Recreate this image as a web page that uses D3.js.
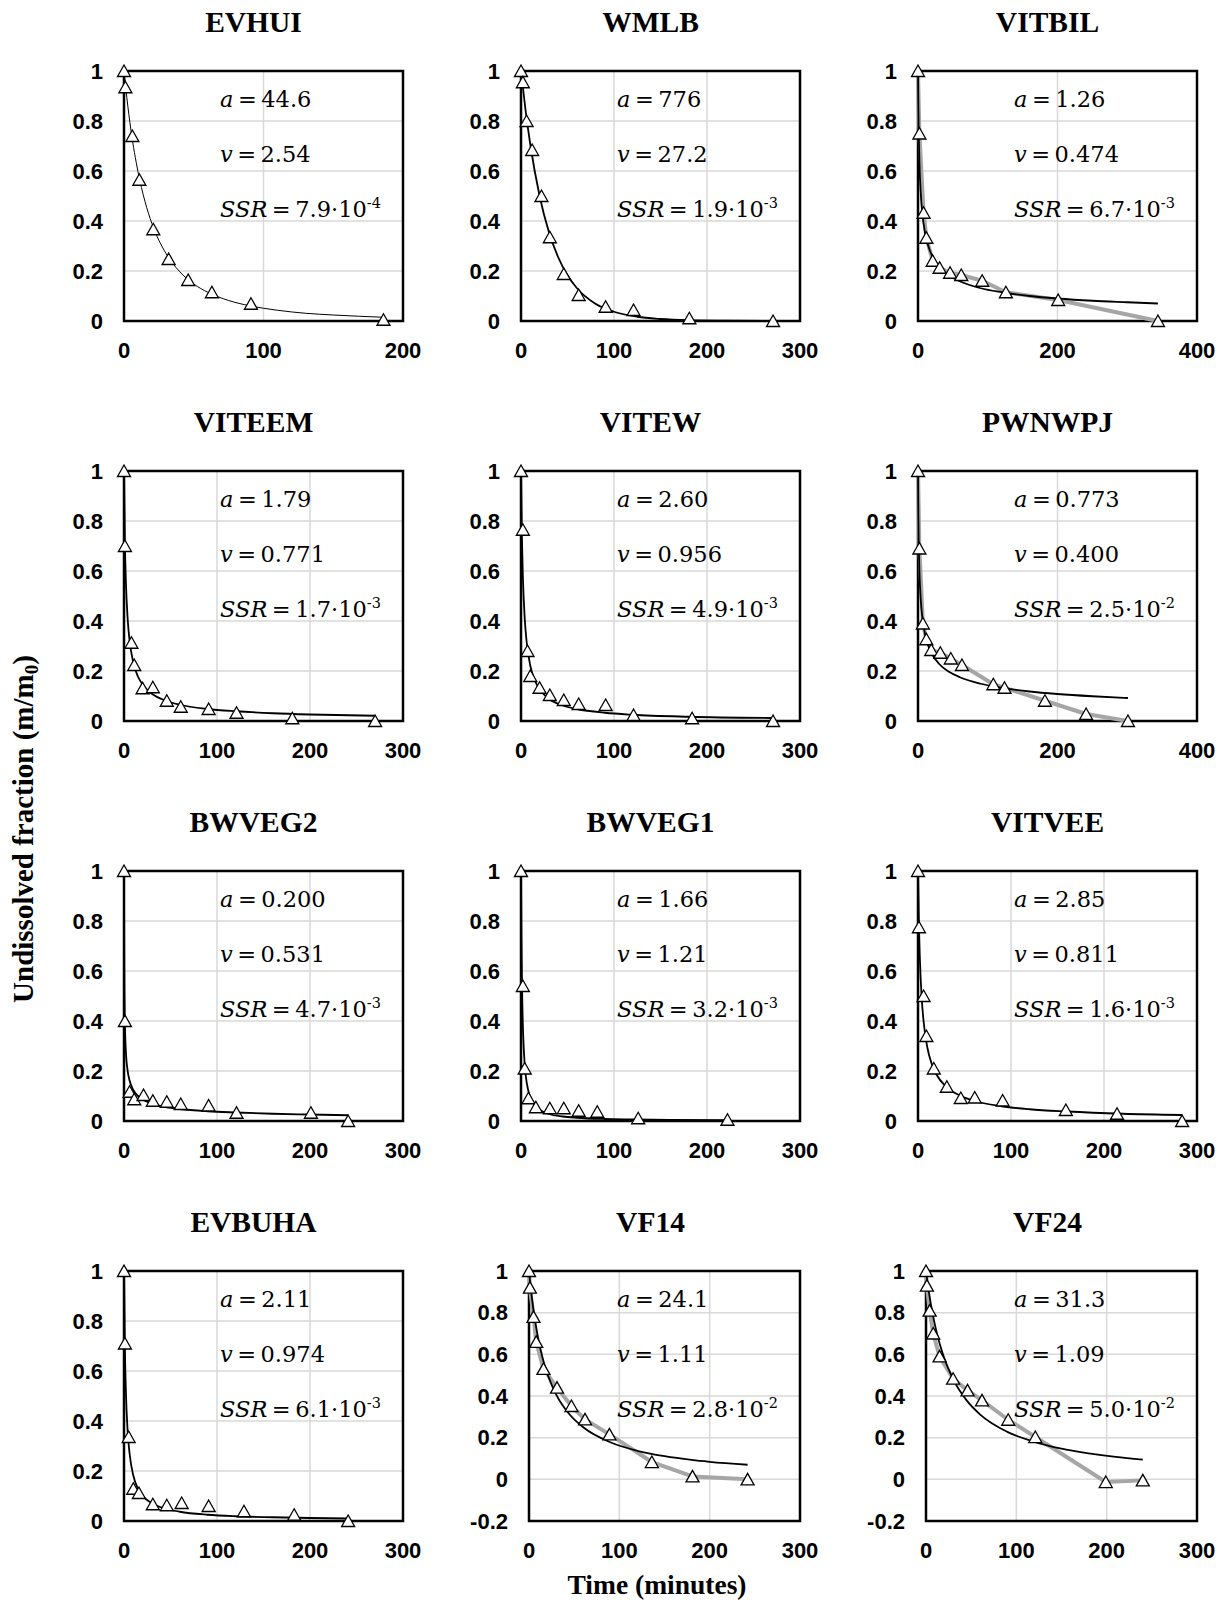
<!DOCTYPE html>
<html>
<head>
<meta charset="utf-8">
<script src="https://cdn.jsdelivr.net/npm/d3@7"></script>
<style>
  body { margin: 0; background: #fff; }
  svg { display: block; }
</style>
</head>
<body>
<script>
const panelNames = ["EVHUI", "WMLB", "VITBIL", "VITEEM", "VITEW", "PWNWPJ",
                    "BWVEG2", "BWVEG1", "VITVEE", "EVBUHA", "VF14", "VF24"];
const xMax  = [200, 300, 400, 300, 300, 400, 300, 300, 300, 300, 300, 300];
const xStep = [100, 100, 200, 100, 100, 200, 100, 100, 100, 100, 100, 100];
const yMin  = [0, 0, 0, 0, 0, 0, 0, 0, 0, 0, -0.2, -0.2];
const greyLine = [false, false, true, false, false, true, false, false, false, false, true, true];

const paramA = ["44.6", "776", "1.26", "1.79", "2.60", "0.773", "0.200", "1.66", "2.85", "2.11", "24.1", "31.3"];
const paramV = ["2.54", "27.2", "0.474", "0.771", "0.956", "0.400", "0.531", "1.21", "0.811", "0.974", "1.11", "1.09"];
const ssrMant = ["7.9", "1.9", "6.7", "1.7", "4.9", "2.5", "4.7", "3.2", "1.6", "6.1", "2.8", "5.0"];
const ssrExp  = ["-4", "-3", "-3", "-3", "-3", "-2", "-3", "-3", "-3", "-3", "-2", "-2"];

// measured points (time in minutes, undissolved fraction)
const obsTime = [
  [0, 1, 6, 11, 21, 32, 46, 63, 91, 186],
  [0, 2, 6, 12, 22, 31, 46, 62, 91, 121, 181, 271],
  [0, 2, 8, 12, 21, 31, 46, 62, 92, 126, 201, 344],
  [0, 1, 8, 11, 20, 31, 46, 61, 91, 121, 181, 270],
  [0, 2, 7, 10, 20, 31, 46, 62, 91, 121, 184, 271],
  [0, 2, 7, 12, 19, 32, 47, 63, 108, 124, 182, 241, 301],
  [0, 1, 6, 11, 21, 31, 46, 61, 91, 121, 201, 241],
  [0, 2, 4, 8, 16, 31, 46, 62, 82, 126, 222],
  [0, 1, 6, 9, 17, 31, 46, 61, 91, 159, 214, 284],
  [0, 1, 5, 10, 16, 31, 46, 62, 91, 129, 183, 241],
  [0, 1, 5, 8, 16, 31, 47, 62, 89, 136, 181, 242],
  [0, 1, 4, 8, 15, 30, 46, 62, 91, 121, 199, 240]
];
const obsFrac = [
  [1, 0.935, 0.74, 0.565, 0.367, 0.248, 0.164, 0.115, 0.069, 0.005],
  [1, 0.955, 0.8, 0.684, 0.5, 0.335, 0.188, 0.104, 0.057, 0.044, 0.011, 0],
  [1, 0.75, 0.433, 0.333, 0.241, 0.213, 0.193, 0.184, 0.161, 0.115, 0.084, 0],
  [1, 0.70, 0.313, 0.224, 0.131, 0.135, 0.081, 0.057, 0.048, 0.033, 0.011, 0],
  [1, 0.765, 0.28, 0.18, 0.133, 0.104, 0.084, 0.068, 0.064, 0.024, 0.011, 0],
  [1, 0.69, 0.39, 0.327, 0.284, 0.273, 0.25, 0.224, 0.147, 0.133, 0.081, 0.028, 0],
  [1, 0.40, 0.117, 0.087, 0.104, 0.081, 0.077, 0.068, 0.062, 0.033, 0.033, 0],
  [1, 0.54, 0.21, 0.091, 0.055, 0.051, 0.051, 0.041, 0.037, 0.011, 0.005],
  [1, 0.775, 0.50, 0.34, 0.21, 0.137, 0.092, 0.094, 0.082, 0.044, 0.029, 0],
  [1, 0.71, 0.336, 0.129, 0.112, 0.067, 0.063, 0.072, 0.06, 0.039, 0.025, 0],
  [1, 0.92, 0.78, 0.66, 0.53, 0.44, 0.352, 0.288, 0.216, 0.083, 0.014, 0],
  [1, 0.93, 0.81, 0.70, 0.59, 0.483, 0.427, 0.379, 0.286, 0.203, -0.013, -0.005]
];

// fitted curves
const fitTime = [
  [0, 2, 5, 10, 15, 20, 30, 40, 50, 60, 75, 90, 110, 130, 150, 186],
  [0, 5, 10, 20, 30, 40, 50, 60, 80, 100, 125, 150, 180, 220, 271],
  [0, 0.5, 1, 2, 4, 6, 10, 15, 20, 30, 45, 60, 90, 120, 160, 200, 250, 300, 344],
  [0, 1, 2, 4, 6, 10, 15, 20, 30, 45, 60, 90, 120, 160, 200, 270],
  [0, 1, 2, 4, 6, 10, 15, 20, 30, 45, 60, 90, 120, 180, 271],
  [0, 0.5, 1, 2, 4, 6, 10, 15, 20, 30, 45, 60, 90, 120, 160, 200, 250, 301],
  [0, 0.2, 0.5, 1, 2, 4, 6, 10, 15, 20, 30, 45, 60, 90, 120, 160, 200, 241],
  [0, 0.5, 1, 2, 3, 5, 8, 12, 20, 30, 45, 60, 90, 120, 160, 222],
  [0, 1, 2, 4, 6, 10, 15, 20, 30, 45, 60, 90, 120, 160, 220, 284],
  [0, 1, 2, 4, 6, 10, 15, 20, 30, 45, 60, 90, 120, 160, 200, 241],
  [0, 2, 5, 10, 15, 20, 30, 45, 60, 90, 120, 150, 180, 200, 242],
  [0, 2, 5, 10, 15, 20, 30, 45, 60, 90, 120, 150, 180, 210, 240]
];
const fitFrac = [
  [1, 0.895, 0.763, 0.598, 0.479, 0.390, 0.271, 0.197, 0.148, 0.115, 0.082, 0.061, 0.043, 0.031, 0.024, 0.015],
  [1, 0.840, 0.706, 0.500, 0.356, 0.255, 0.183, 0.132, 0.069, 0.037, 0.017, 0.008, 0.003, 0.001, 0],
  [1, 0.853, 0.758, 0.637, 0.508, 0.436, 0.354, 0.298, 0.262, 0.218, 0.181, 0.159, 0.131, 0.115, 0.100, 0.090, 0.081, 0.075, 0.070],
  [1, 0.710, 0.561, 0.405, 0.322, 0.234, 0.178, 0.146, 0.109, 0.081, 0.065, 0.048, 0.039, 0.031, 0.026, 0.021],
  [1, 0.733, 0.580, 0.410, 0.319, 0.221, 0.161, 0.127, 0.089, 0.062, 0.048, 0.033, 0.025, 0.017, 0.012],
  [1, 0.819, 0.717, 0.600, 0.483, 0.420, 0.349, 0.299, 0.268, 0.229, 0.196, 0.175, 0.149, 0.133, 0.118, 0.108, 0.099, 0.092],
  [1, 0.692, 0.514, 0.386, 0.280, 0.199, 0.162, 0.124, 0.100, 0.086, 0.070, 0.056, 0.048, 0.039, 0.034, 0.029, 0.026, 0.023],
  [1, 0.727, 0.565, 0.384, 0.287, 0.186, 0.119, 0.078, 0.045, 0.028, 0.018, 0.013, 0.008, 0.006, 0.004, 0.003],
  [1, 0.784, 0.650, 0.491, 0.399, 0.295, 0.226, 0.185, 0.138, 0.102, 0.081, 0.059, 0.047, 0.038, 0.029, 0.024],
  [1, 0.685, 0.522, 0.355, 0.270, 0.182, 0.130, 0.101, 0.071, 0.049, 0.037, 0.025, 0.019, 0.015, 0.012, 0.010],
  [1, 0.915, 0.811, 0.680, 0.584, 0.511, 0.408, 0.311, 0.250, 0.178, 0.137, 0.111, 0.093, 0.084, 0.070],
  [1, 0.935, 0.851, 0.739, 0.653, 0.584, 0.481, 0.379, 0.311, 0.228, 0.180, 0.147, 0.125, 0.108, 0.095]
];

const width = 1224, height = 1603;
const colLeft = [124, 521, 918];
const rowTop = [71, 471, 871, 1271];
const boxW = 279, boxH = 250;

const svg = d3.select("body").append("svg")
  .attr("width", width)
  .attr("height", height);
svg.append("rect").attr("width", width).attr("height", height).attr("fill", "#fff");

const triangle = "M0,-6L6.5,5.5L-6.5,5.5Z";
const tickFmt = d => String(+d.toFixed(1));   // plain hyphen for negatives

panelNames.forEach((name, i) => {
  const col = i % 3, row = Math.floor(i / 3);
  const shift = yMin[i] < 0 ? 8 : 0;
  const left = colLeft[col] + shift;
  const top = rowTop[row];
  const w = boxW - shift;

  const x = d3.scaleLinear().domain([0, xMax[i]]).range([0, w]);
  const y = d3.scaleLinear().domain([yMin[i], 1]).range([boxH, 0]);
  const xTicks = d3.range(0, xMax[i] + 1, xStep[i]);
  const yTicks = d3.range(Math.round(yMin[i] * 10), 11, 2).map(d => d / 10);

  // title, centred on the column
  svg.append("text")
    .attr("x", colLeft[col] + boxW / 2 - 10)
    .attr("y", top - 39)
    .attr("text-anchor", "middle")
    .style("font-family", "'Liberation Serif', 'Times New Roman', serif")
    .style("font-weight", "bold")
    .style("font-size", "29.5px")
    .text(name);

  const g = svg.append("g").attr("transform", `translate(${left},${top})`);

  // grid
  g.selectAll(".hgrid").data(yTicks).join("line")
    .attr("x1", 0).attr("x2", w)
    .attr("y1", d => y(d)).attr("y2", d => y(d))
    .attr("stroke", "#d9d9d9").attr("stroke-width", 1.5);
  g.selectAll(".vgrid").data(xTicks).join("line")
    .attr("x1", d => x(d)).attr("x2", d => x(d))
    .attr("y1", 0).attr("y2", boxH)
    .attr("stroke", "#d9d9d9").attr("stroke-width", 1.5);

  // tick labels
  g.selectAll(".ylab").data(yTicks).join("text")
    .attr("x", -21).attr("y", d => y(d))
    .attr("text-anchor", "end")
    .attr("dominant-baseline", "central")
    .style("font-family", "'Liberation Sans', Arial, sans-serif")
    .style("font-weight", "bold")
    .style("font-size", "22px")
    .text(tickFmt);
  g.selectAll(".xlab").data(xTicks).join("text")
    .attr("x", d => x(d)).attr("y", boxH + 29)
    .attr("text-anchor", "middle")
    .attr("dominant-baseline", "central")
    .style("font-family", "'Liberation Sans', Arial, sans-serif")
    .style("font-weight", "bold")
    .style("font-size", "22px")
    .text(d => d);

  // frame
  g.append("rect")
    .attr("width", w).attr("height", boxH)
    .attr("fill", "none").attr("stroke", "#000").attr("stroke-width", 2.5);

  const obs = obsTime[i].map((t, k) => [t, obsFrac[i][k]]);
  const fit = fitTime[i].map((t, k) => [t, fitFrac[i][k]]);
  const line = d3.line().x(d => x(d[0])).y(d => y(d[1]));

  if (greyLine[i]) {
    g.append("path")
      .attr("d", line(obs))
      .attr("fill", "none")
      .attr("stroke", "#a6a6a6")
      .attr("stroke-width", 4)
      .attr("stroke-linejoin", "round");
  }

  g.append("path")
    .attr("d", line.curve(d3.curveMonotoneX)(fit))
    .attr("fill", "none")
    .attr("stroke", "#000")
    .attr("stroke-width", i === 0 ? 1 : 1.8);

  g.selectAll(".pt").data(obs).join("path")
    .attr("d", triangle)
    .attr("transform", d => `translate(${x(d[0])},${y(d[1])})`)
    .attr("fill", "#fff")
    .attr("stroke", "#000")
    .attr("stroke-width", 1.3);

  // parameter annotations
  const ann = g.append("g")
    .attr("transform", `translate(${96 - shift},0)`)
    .style("font-family", "'DejaVu Serif', serif")
    .style("font-size", "22.5px");
  const rowA = ann.append("text").attr("y", 36);
  rowA.append("tspan").style("font-style", "italic").text("a");
  rowA.append("tspan").text("\u2009=\u2009" + paramA[i]);
  const rowV = ann.append("text").attr("y", 91);
  rowV.append("tspan").style("font-style", "italic").text("v");
  rowV.append("tspan").text("\u2009=\u2009" + paramV[i]);
  const rowS = ann.append("text").attr("y", 146);
  rowS.append("tspan").style("font-style", "italic").text("SSR");
  rowS.append("tspan").text("\u2009=\u2009" + ssrMant[i] + "\u00b710");
  rowS.append("tspan").attr("dy", -9).style("font-size", "14.5px").text(ssrExp[i]);
});

// shared axis titles
const yTitle = svg.append("text")
  .attr("transform", "translate(33,829) rotate(-90)")
  .attr("text-anchor", "middle")
  .style("font-family", "'Liberation Serif', 'Times New Roman', serif")
  .style("font-weight", "bold")
  .style("font-size", "29px");
yTitle.append("tspan").text("Undissolved fraction (m/m");
yTitle.append("tspan").attr("dy", 5).style("font-size", "19px").text("0");
yTitle.append("tspan").attr("dy", -5).text(")");

svg.append("text")
  .attr("x", 657).attr("y", 1594)
  .attr("text-anchor", "middle")
  .style("font-family", "'Liberation Serif', 'Times New Roman', serif")
  .style("font-weight", "bold")
  .style("font-size", "27.5px")
  .text("Time (minutes)");
</script>
</body>
</html>
